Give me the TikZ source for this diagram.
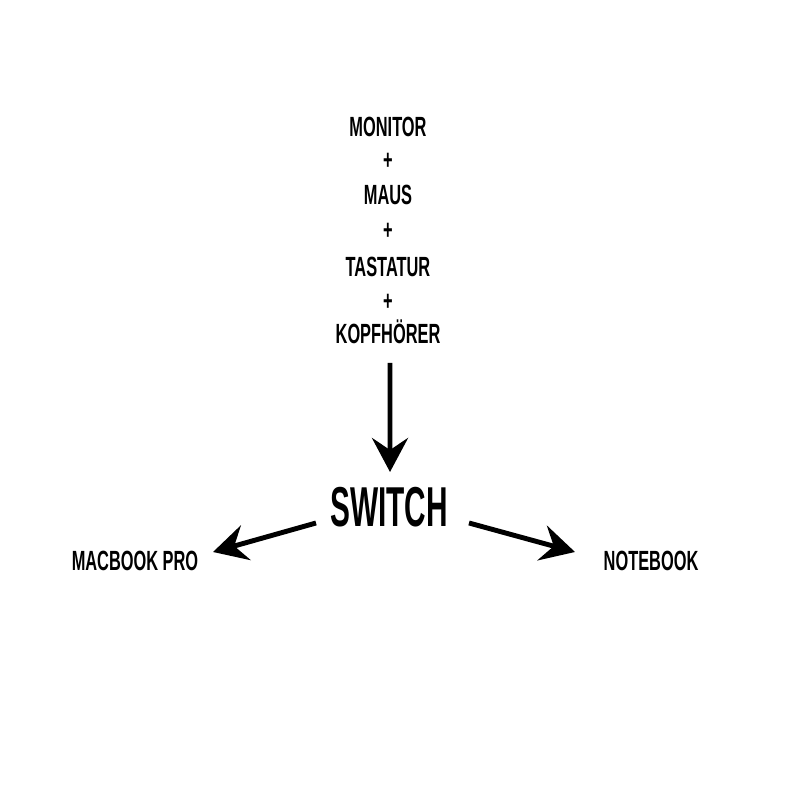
\documentclass[tikz,border=0pt]{standalone}
\usepackage{fontspec}
\setmainfont{Liberation Sans}[FakeStretch=0.59]
\newfontfamily\bigfont{Liberation Sans}[FakeStretch=0.53]
\usetikzlibrary{arrows.meta}

\begin{document}
\begin{tikzpicture}[
	lbl/.style={inner sep=0pt, anchor=base, font=\fontsize{7.9}{8}\selectfont\bfseries},
	big/.style={inner sep=0pt, anchor=base, font=\bigfont\fontsize{16}{17}\selectfont\bfseries},
	arr/.style={line width=1.4pt, -{Stealth[length=3.4mm, width=3.6mm, inset=1.2mm]}}]
\fill[white] (0,0) rectangle (8,8);
\node [lbl] (monitor) at (3.88,6.63) {MONITOR};
\node [lbl] (plus1) at (3.88,6.30) {+};
\node [lbl] (maus) at (3.88,5.95) {MAUS};
\node [lbl] (plus2) at (3.88,5.60) {+};
\node [lbl] (tastatur) at (3.88,5.23) {TASTATUR};
\node [lbl] (plus3) at (3.88,4.89) {+};
\node [lbl] (kopf) at (3.88,4.56) {KOPFHÖRER};
\node [big] (switch) at (3.89,2.73) {SWITCH};
\node [lbl] (mac) at (1.35,2.29) {MACBOOK PRO};
\node [lbl] (note) at (6.51,2.29) {NOTEBOOK};
\draw [arr] ([shift={(0.02,-0.19)}]kopf.base) -- ([shift={(0.01,0.55)}]switch.base);
\draw [arr] ([shift={(-0.73,0.04)}]switch.base) -- ([shift={(0.78,0.19)}]mac.base);
\draw [arr] ([shift={(0.80,0.04)}]switch.base) -- ([shift={(-0.76,0.19)}]note.base);
\end{tikzpicture}
\end{document}
